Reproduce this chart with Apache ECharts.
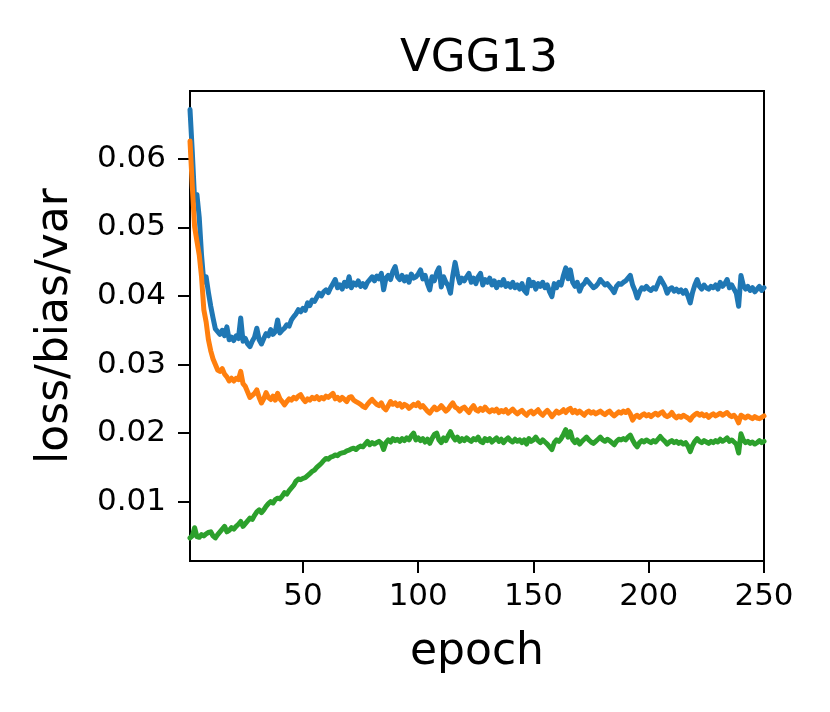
<!DOCTYPE html>
<html lang="en">
<head>
  <meta charset="UTF-8" />
  <title>VGG13 loss/bias/var</title>
  <script src="https://cdn.jsdelivr.net/npm/echarts@6.0.0/dist/echarts.min.js"></script>
  <style>
    html, body { margin: 0; padding: 0; background: #fff; }
    #main { width: 830px; height: 712px; }
  </style>
</head>
<body>
  <div id="main"></div>
  <script>
    // per-epoch values (epochs 1..250)
    const loss = [
      0.0672, 0.0610, 0.0540, 0.0548, 0.0515, 0.0460, 0.0420, 0.0428, 0.0405, 0.0385,
      0.0368, 0.0352, 0.0348, 0.0344, 0.0350, 0.0342, 0.0355, 0.0336, 0.0340, 0.0335,
      0.0342, 0.0338, 0.0368, 0.0334, 0.0338, 0.0330, 0.0326, 0.0334, 0.0340, 0.0353,
      0.0336, 0.0330, 0.0338, 0.0345, 0.0342, 0.0351, 0.0344, 0.0348, 0.0365, 0.0346,
      0.0350, 0.0353, 0.0358, 0.0356, 0.0365, 0.0370, 0.0374, 0.0380, 0.0377, 0.0382,
      0.0379, 0.0390, 0.0386, 0.0394, 0.0392, 0.0398, 0.0404, 0.0400, 0.0406, 0.0409,
      0.0405, 0.0412, 0.0418, 0.0424, 0.0412, 0.0416, 0.0410, 0.0420, 0.0414, 0.0428,
      0.0412, 0.0419, 0.0416, 0.0422, 0.0414, 0.0418, 0.0413, 0.0420, 0.0424, 0.0428,
      0.0422, 0.0429, 0.0425, 0.0433, 0.0409, 0.0426, 0.0430, 0.0424, 0.0436, 0.0443,
      0.0428, 0.0424, 0.0430, 0.0422, 0.0428, 0.0420, 0.0432, 0.0426, 0.0428, 0.0432,
      0.0438, 0.0425, 0.0430, 0.0418, 0.0409, 0.0428, 0.0422, 0.0434, 0.0441, 0.0413,
      0.0428, 0.0420, 0.0415, 0.0404, 0.0430, 0.0449, 0.0432, 0.0419, 0.0426, 0.0422,
      0.0428, 0.0433, 0.0420, 0.0426, 0.0418, 0.0428, 0.0433, 0.0416, 0.0424, 0.0420,
      0.0426, 0.0416, 0.0422, 0.0412, 0.0420, 0.0416, 0.0424, 0.0414, 0.0418, 0.0413,
      0.0420, 0.0412, 0.0416, 0.0410, 0.0418, 0.0408, 0.0404, 0.0424, 0.0415, 0.0420,
      0.0410, 0.0418, 0.0414, 0.0420, 0.0412, 0.0416, 0.0406, 0.0399, 0.0418, 0.0412,
      0.0420, 0.0416, 0.0430, 0.0441, 0.0425, 0.0438, 0.0420, 0.0414, 0.0420, 0.0407,
      0.0415, 0.0418, 0.0424, 0.0420, 0.0416, 0.0412, 0.0414, 0.0418, 0.0424, 0.0420,
      0.0416, 0.0418, 0.0414, 0.0410, 0.0405, 0.0414, 0.0418, 0.0417, 0.0420, 0.0422,
      0.0426, 0.0430, 0.0416, 0.0408, 0.0397, 0.0406, 0.0412, 0.0410, 0.0414, 0.0410,
      0.0408, 0.0412, 0.0410, 0.0418, 0.0426, 0.0420, 0.0414, 0.0404, 0.0410, 0.0412,
      0.0407, 0.0410, 0.0406, 0.0409, 0.0404, 0.0408, 0.0400, 0.0390, 0.0405, 0.0416,
      0.0424, 0.0414, 0.0410, 0.0416, 0.0412, 0.0410, 0.0414, 0.0412, 0.0416, 0.0410,
      0.0420, 0.0414, 0.0418, 0.0424, 0.0412, 0.0416, 0.0410, 0.0404, 0.0385, 0.0430,
      0.0416, 0.0410, 0.0414, 0.0408, 0.0412, 0.0406, 0.0410, 0.0414, 0.0408, 0.0412
    ];
    const bias = [
      0.0626, 0.0560, 0.0501, 0.0480, 0.0460, 0.0428, 0.0380, 0.0362, 0.0336, 0.0320,
      0.0308, 0.0300, 0.0292, 0.0290, 0.0294, 0.0286, 0.0282, 0.0276, 0.0280, 0.0276,
      0.0280, 0.0278, 0.0290, 0.0272, 0.0268, 0.0260, 0.0252, 0.0255, 0.0258, 0.0263,
      0.0252, 0.0244, 0.0250, 0.0259, 0.0252, 0.0249, 0.0254, 0.0248, 0.0258, 0.0250,
      0.0246, 0.0241, 0.0246, 0.0250, 0.0248, 0.0252, 0.0250, 0.0254, 0.0256, 0.0250,
      0.0246, 0.0250, 0.0248, 0.0252, 0.0250, 0.0253, 0.0249, 0.0252, 0.0250, 0.0254,
      0.0252, 0.0255, 0.0258, 0.0250, 0.0252, 0.0248, 0.0252, 0.0249, 0.0246, 0.0252,
      0.0253, 0.0248, 0.0246, 0.0244, 0.0242, 0.0239, 0.0237, 0.0242, 0.0246, 0.0249,
      0.0245, 0.0242, 0.0240, 0.0244, 0.0237, 0.0234, 0.0240, 0.0246, 0.0242, 0.0244,
      0.0240, 0.0243, 0.0238, 0.0242, 0.0240, 0.0236, 0.0239, 0.0242, 0.0240, 0.0244,
      0.0238, 0.0240, 0.0236, 0.0232, 0.0229, 0.0234, 0.0238, 0.0234, 0.0236, 0.0240,
      0.0236, 0.0232, 0.0235, 0.0240, 0.0244, 0.0238, 0.0236, 0.0232, 0.0236, 0.0238,
      0.0234, 0.0230, 0.0236, 0.0240, 0.0234, 0.0232, 0.0236, 0.0233, 0.0238, 0.0234,
      0.0231, 0.0234, 0.0232, 0.0235, 0.0230, 0.0233, 0.0231, 0.0234, 0.0229, 0.0232,
      0.0235, 0.0231, 0.0228, 0.0231, 0.0233, 0.0229, 0.0226, 0.0230, 0.0232, 0.0228,
      0.0231, 0.0234, 0.0229, 0.0226, 0.0230, 0.0233, 0.0229, 0.0224, 0.0228, 0.0232,
      0.0229, 0.0231, 0.0234, 0.0230, 0.0234, 0.0236, 0.0230, 0.0233, 0.0229, 0.0232,
      0.0229, 0.0226, 0.0230, 0.0232, 0.0229, 0.0231, 0.0228, 0.0230, 0.0232, 0.0229,
      0.0227, 0.0230, 0.0232, 0.0228, 0.0225, 0.0228, 0.0231, 0.0229, 0.0232, 0.0230,
      0.0233, 0.0228, 0.0219, 0.0224, 0.0226, 0.0223, 0.0226, 0.0228, 0.0225, 0.0227,
      0.0224, 0.0227, 0.0229, 0.0226, 0.0229, 0.0231, 0.0226, 0.0224, 0.0226, 0.0230,
      0.0225, 0.0222, 0.0225, 0.0223, 0.0226, 0.0224, 0.0222, 0.0219, 0.0224, 0.0227,
      0.0229, 0.0226, 0.0228, 0.0225, 0.0227, 0.0223, 0.0226, 0.0228, 0.0225, 0.0227,
      0.0229, 0.0226, 0.0228, 0.0230, 0.0226, 0.0224, 0.0226, 0.0222, 0.0215, 0.0226,
      0.0224, 0.0222, 0.0225, 0.0223, 0.0221, 0.0224, 0.0222, 0.0221, 0.0223, 0.0225
    ];
    const variance = [
      0.0047, 0.0050, 0.0062, 0.0049, 0.0048, 0.0052, 0.0050, 0.0053, 0.0055, 0.0056,
      0.0050, 0.0047, 0.0052, 0.0056, 0.0060, 0.0064, 0.0056, 0.0058, 0.0062, 0.0060,
      0.0064, 0.0067, 0.0071, 0.0064, 0.0068, 0.0072, 0.0076, 0.0074, 0.0080, 0.0085,
      0.0088, 0.0084, 0.0088, 0.0093, 0.0097, 0.0100, 0.0098, 0.0103, 0.0105, 0.0104,
      0.0108, 0.0113, 0.0111, 0.0116, 0.0120, 0.0124, 0.0130, 0.0133, 0.0132, 0.0134,
      0.0135, 0.0138, 0.0141, 0.0144, 0.0146, 0.0150, 0.0153, 0.0156, 0.0160, 0.0163,
      0.0162, 0.0165, 0.0166, 0.0168, 0.0167, 0.0170, 0.0171, 0.0172, 0.0174, 0.0175,
      0.0177, 0.0178, 0.0176, 0.0179, 0.0181, 0.0180, 0.0184, 0.0188, 0.0183, 0.0186,
      0.0184, 0.0186, 0.0188, 0.0185, 0.0176, 0.0186, 0.0190, 0.0187, 0.0192, 0.0189,
      0.0191, 0.0188, 0.0192, 0.0189, 0.0193, 0.0190, 0.0196, 0.0200, 0.0190, 0.0193,
      0.0189, 0.0192, 0.0187, 0.0191, 0.0185, 0.0192, 0.0198, 0.0200, 0.0190, 0.0186,
      0.0193, 0.0189, 0.0196, 0.0202, 0.0195, 0.0190, 0.0194, 0.0188, 0.0192, 0.0189,
      0.0193, 0.0190, 0.0188, 0.0192, 0.0190, 0.0194, 0.0188, 0.0186, 0.0192, 0.0189,
      0.0192, 0.0187, 0.0190, 0.0193, 0.0188, 0.0191, 0.0186, 0.0190, 0.0193, 0.0189,
      0.0187, 0.0191, 0.0188, 0.0190, 0.0186, 0.0190, 0.0184, 0.0192, 0.0188, 0.0190,
      0.0194, 0.0189, 0.0186, 0.0190, 0.0187, 0.0184, 0.0180, 0.0176, 0.0186, 0.0190,
      0.0188, 0.0192, 0.0198, 0.0205, 0.0194, 0.0202, 0.0190, 0.0186, 0.0190, 0.0184,
      0.0188, 0.0191, 0.0194, 0.0190, 0.0187, 0.0185, 0.0188, 0.0191, 0.0194, 0.0190,
      0.0188, 0.0191, 0.0189, 0.0186, 0.0183, 0.0188, 0.0191, 0.0190, 0.0192, 0.0190,
      0.0194, 0.0197, 0.0190, 0.0184, 0.0180, 0.0186, 0.0189, 0.0187, 0.0190, 0.0188,
      0.0186, 0.0189, 0.0187, 0.0191, 0.0195, 0.0191, 0.0188, 0.0184, 0.0187, 0.0189,
      0.0186, 0.0188, 0.0185, 0.0187, 0.0184, 0.0186, 0.0181, 0.0173, 0.0182, 0.0188,
      0.0192, 0.0188, 0.0186, 0.0189, 0.0187, 0.0185, 0.0188, 0.0186, 0.0189, 0.0187,
      0.0191, 0.0188, 0.0190, 0.0193, 0.0188, 0.0190, 0.0187, 0.0184, 0.0171, 0.0199,
      0.0190, 0.0186, 0.0188, 0.0185, 0.0187, 0.0184, 0.0186, 0.0189, 0.0186, 0.0188
    ];
    const xTicks = [50, 100, 150, 200, 250];
    const yTicks = [0.01, 0.02, 0.03, 0.04, 0.05, 0.06];

    const chart = echarts.init(document.getElementById('main'));
    const font = 'DejaVu Sans';
    const pairs = arr => arr.map((v, i) => [i + 1, v]);

    function lineSeries(name, color, values) {
      return {
        name: name,
        type: 'line',
        data: pairs(values),
        showSymbol: false,
        symbol: 'none',
        lineStyle: { color: color, width: 5, join: 'round', cap: 'round' },
        itemStyle: { color: color },
        animation: false
      };
    }

    chart.setOption({
      backgroundColor: '#ffffff',
      animation: false,
      title: {
        text: 'VGG13',
        left: 395,
        top: 32,
        textStyle: { fontFamily: font, fontSize: 45, fontWeight: 'normal', color: '#000' }
      },
      grid: {
        left: 190, right: 66, top: 91, bottom: 151,
        show: true, borderColor: '#000', borderWidth: 2, backgroundColor: 'transparent'
      },
      xAxis: {
        type: 'value',
        min: 1,
        max: 250,
        name: 'epoch',
        nameLocation: 'middle',
        nameGap: 70,
        nameTextStyle: { fontFamily: font, fontSize: 44, color: '#000' },
        axisLine: { show: false },
        splitLine: { show: false },
        axisTick: { show: true, customValues: xTicks, length: 12, lineStyle: { color: '#000', width: 2 } },
        axisLabel: { customValues: xTicks, margin: 20, fontFamily: font, fontSize: 31, color: '#000' }
      },
      yAxis: {
        type: 'value',
        min: 0.00134,
        max: 0.0699,
        name: 'loss/bias/var',
        nameLocation: 'middle',
        nameRotate: 90,
        nameGap: 112,
        nameTextStyle: { fontFamily: font, fontSize: 44, color: '#000' },
        axisLine: { show: false },
        splitLine: { show: false },
        axisTick: { show: true, customValues: yTicks, length: 12, lineStyle: { color: '#000', width: 2 } },
        axisLabel: {
          customValues: yTicks, margin: 24, fontFamily: font, fontSize: 31, color: '#000',
          formatter: v => v.toFixed(2)
        }
      },
      series: [
        lineSeries('loss', '#1f77b4', loss),
        lineSeries('bias', '#ff7f0e', bias),
        lineSeries('var', '#2ca02c', variance)
      ]
    });
  </script>
</body>
</html>
